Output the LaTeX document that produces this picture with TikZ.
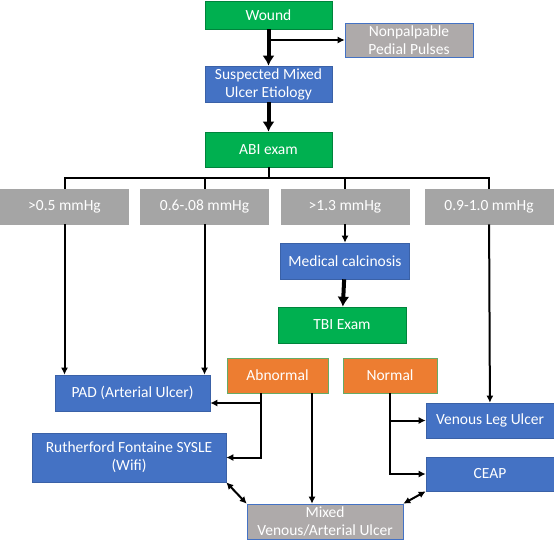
\documentclass[tikz,border=0pt]{standalone}
\usepackage{fontspec}
\setmainfont{Carlito}
\usetikzlibrary{arrows.meta}
\definecolor{gnx}{HTML}{00B050}
\definecolor{blx}{HTML}{4472C4}
\definecolor{gax}{HTML}{A5A5A5}
\definecolor{gaz}{HTML}{AEAAAA}
\definecolor{orx}{HTML}{ED7D31}
\tikzset{
    box/.style={text=white,inner sep=0pt,align=center,line width=0.6pt,
        font=\fontsize{15.5}{18}\selectfont},
    gbox/.style={box,fill=gnx,draw=gnx!75!black},
    bbox/.style={box,fill=blx,draw=blx!85!black},
    rbox/.style={box,fill=gax,draw=gax},
    pbox/.style={box,fill=gaz,draw=blx},
    obox/.style={box,fill=orx,draw=green!45!black!60},
    ln/.style={line width=2pt},
    arr/.style={ln,-{Latex[length=7pt,width=7pt]}},
    biarr/.style={ln,{Latex[length=7pt,width=7pt]}-{Latex[length=7pt,width=7pt]}},
    fat/.style={line width=4pt,-{Latex[length=10pt,width=12pt]}}
}

\begin{document}
\begin{tikzpicture}[x=1pt,y=-1pt]
    \useasboundingbox (0,0) rectangle (554,550);
    % top of the chart
    \node [gbox,minimum width=127pt,minimum height=28pt] (wound) at (268.5,15) {Wound};
    \node [pbox,minimum width=128pt,minimum height=34pt] (pulses) at (409,40) {Nonpalpable\\Pedial Pulses};
    \node [bbox,minimum width=127pt,minimum height=36pt] (suspect) at (268.5,84) {Suspected Mixed\\Ulcer Etiology};
    \node [gbox,minimum width=127pt,minimum height=35pt] (abi) at (268.5,149.5) {ABI exam};
    % ranges
    \node [rbox,minimum width=128pt,minimum height=35pt] (rone) at (64.5,206.5) {>0.5 mmHg};
    \node [rbox,minimum width=128pt,minimum height=35pt] (rtwo) at (204.5,206.5) {0.6-.08 mmHg};
    \node [rbox,minimum width=128pt,minimum height=35pt] (rthree) at (345,206.5) {>1.3 mmHg};
    \node [rbox,minimum width=128pt,minimum height=35pt] (rfour) at (489,206.5) {0.9-1.0 mmHg};
    \coordinate (bus) at (268.5,178);
    \node [bbox,minimum width=129pt,minimum height=36pt] (calc) at (345,261) {Medical calcinosis};
    \node [gbox,minimum width=128pt,minimum height=36pt] (tbi) at (342,325) {TBI Exam};
    % results
    \node [obox,minimum width=101pt,minimum height=35pt] (abn) at (277.5,375.5) {Abnormal};
    \node [obox,minimum width=94pt,minimum height=35pt] (norm) at (390,375.5) {Normal};
    \node [bbox,minimum width=155pt,minimum height=36pt] (pad) at (132.5,393) {PAD (Arterial Ulcer)};
    \node [bbox,minimum width=194pt,minimum height=49pt] (rfs) at (129,457.5) {Rutherford Fontaine SYSLE\\(Wifi)};
    \node [bbox,minimum width=128pt,minimum height=35pt] (vlu) at (490,420.5) {Venous Leg Ulcer};
    \node [bbox,minimum width=128pt,minimum height=34pt] (ceap) at (490,474) {CEAP};
    \node [pbox,minimum width=156pt,minimum height=35pt] (mixed) at (325,521.5) {Mixed\\Venous/Arterial Ulcer};
    % connectors
    \draw [fat] (wound) -- (suspect);
    \draw [arr] (wound |- pulses.west) -- (pulses.west);
    \draw [fat] (suspect) -- (abi);
    \draw [ln] (abi) -- (bus);
    \draw [ln] (rone.north) |- (bus) -| (rfour.north);
    \draw [ln] (rtwo.north) -- (rtwo.north |- bus);
    \draw [ln] (rthree.north) -- (rthree.north |- bus);
    \draw [arr] (rone.south) -- (rone.south |- pad.north);
    \draw [arr] (rtwo.south) -- (rtwo.south |- pad.north);
    \draw [arr] (rthree) -- (calc);
    \draw [fat] (calc) -- (tbi);
    \draw [arr] (rfour) -- (vlu);
    \draw [arr] ([xshift=-16.5pt]abn.south) |- (rfs.east);
    \draw [arr] ([xshift=-16.5pt]abn.south) |- ([yshift=-10pt]pad.east);
    \draw [arr] ([xshift=34.5pt]abn.south) -- ([xshift=34.5pt]abn.south |- mixed.north);
    \draw [arr] (norm.south) |- (ceap.west);
    \draw [arr] (norm.south) |- (vlu.west);
    \draw [biarr] (rfs.south east) -- (mixed.north west);
    \draw [biarr] (ceap.south west) -- (mixed.north east);
\end{tikzpicture}
\end{document}
